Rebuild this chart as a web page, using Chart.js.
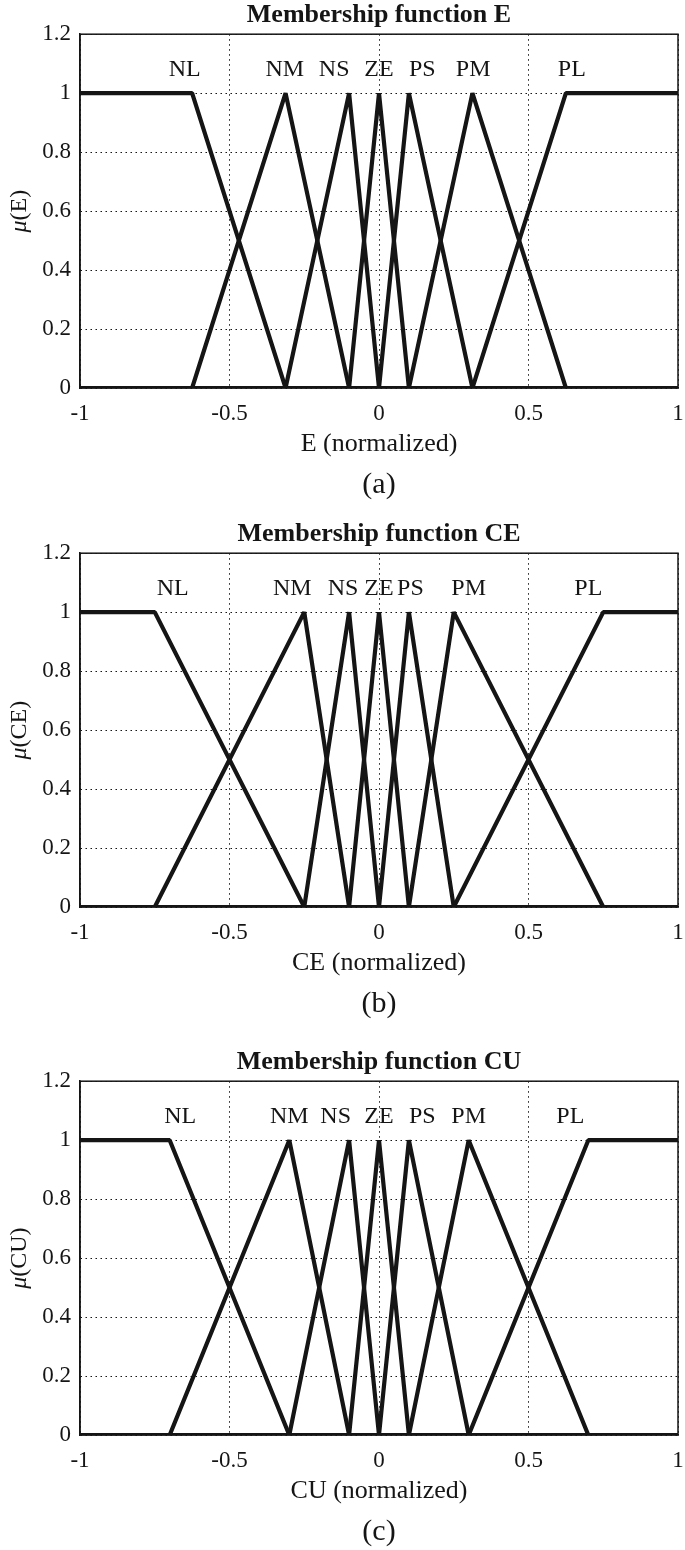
<!DOCTYPE html>
<html>
<head>
<meta charset="utf-8">
<script src="https://cdn.jsdelivr.net/npm/chart.js@4/dist/chart.umd.min.js"></script>
<style>
  html,body{margin:0;padding:0;background:#fff;width:685px;height:1550px;overflow:hidden;}
  /* canvas is a bit wider than the page so that titles centre on the plot area */
  .box{position:absolute;left:0;width:758px;height:510px;}
</style>
</head>
<body>
<div class="box" style="top:0"><canvas id="cE"></canvas></div>
<div class="box" style="top:519px"><canvas id="cCE"></canvas></div>
<div class="box" style="top:1047px"><canvas id="cCU"></canvas></div>
<script>
// Fuzzy membership functions (x normalized, y = membership)
const TERMS = ["NL","NM","NS","ZE","PS","PM","PL"];

// (a) E
const MF_E = [
  [[-1,1],[-0.625,1],[-0.3125,0],[1,0]],
  [[-1,0],[-0.625,0],[-0.3125,1],[-0.1,0],[1,0]],
  [[-1,0],[-0.3125,0],[-0.1,1],[0,0],[1,0]],
  [[-1,0],[-0.1,0],[0,1],[0.1,0],[1,0]],
  [[-1,0],[0,0],[0.1,1],[0.3125,0],[1,0]],
  [[-1,0],[0.1,0],[0.3125,1],[0.625,0],[1,0]],
  [[-1,0],[0.3125,0],[0.625,1],[1,1]]
];
const LBL_X_E = [-0.65,-0.315,-0.15,0,0.145,0.315,0.645];

// (b) CE
const MF_CE = [
  [[-1,1],[-0.75,1],[-0.25,0],[1,0]],
  [[-1,0],[-0.75,0],[-0.25,1],[-0.1,0],[1,0]],
  [[-1,0],[-0.25,0],[-0.1,1],[0,0],[1,0]],
  [[-1,0],[-0.1,0],[0,1],[0.1,0],[1,0]],
  [[-1,0],[0,0],[0.1,1],[0.25,0],[1,0]],
  [[-1,0],[0.1,0],[0.25,1],[0.75,0],[1,0]],
  [[-1,0],[0.25,0],[0.75,1],[1,1]]
];
const LBL_X_CE = [-0.69,-0.29,-0.12,0,0.105,0.30,0.70];

// (c) CU
const MF_CU = [
  [[-1,1],[-0.7,1],[-0.3,0],[1,0]],
  [[-1,0],[-0.7,0],[-0.3,1],[-0.1,0],[1,0]],
  [[-1,0],[-0.3,0],[-0.1,1],[0,0],[1,0]],
  [[-1,0],[-0.1,0],[0,1],[0.1,0],[1,0]],
  [[-1,0],[0,0],[0.1,1],[0.3,0],[1,0]],
  [[-1,0],[0.1,0],[0.3,1],[0.7,0],[1,0]],
  [[-1,0],[0.3,0],[0.7,1],[1,1]]
];
const LBL_X_CU = [-0.665,-0.30,-0.145,0,0.145,0.30,0.64];

const LBL_Y = 1.08;
const X_MIN = -1, X_MAX = 1, X_STEP = 0.5;
const Y_MIN = 0, Y_MAX = 1.2, Y_STEP = 0.2;

const FONT = "'Liberation Serif','DejaVu Serif','Times New Roman',serif";
const INK = "#151515";
const DOTS = [1.5,3.5];

// box around the plot area (MATLAB axes frame)
const framePlugin = {
  id: "frame",
  beforeDatasetsDraw(chart){
    const {ctx, chartArea:a} = chart;
    ctx.save();
    ctx.strokeStyle = INK; ctx.lineWidth = 1.5; ctx.setLineDash([]);
    ctx.strokeRect(a.left, a.top, a.right-a.left, a.bottom-a.top);
    ctx.restore();
  }
};

// term names above the peaks + y axis title with italic mu
const textPlugin = {
  id: "mfText",
  afterDraw(chart, args, opts){
    const {ctx, scales:{x, y}, chartArea:a} = chart;
    ctx.save();
    ctx.fillStyle = INK;
    ctx.font = "24px " + FONT;
    ctx.textAlign = "center"; ctx.textBaseline = "middle";
    const py = y.getPixelForValue(LBL_Y);
    opts.labelX.forEach((v,i)=> ctx.fillText(TERMS[i], x.getPixelForValue(v), py));

    // rotated "μ(E)"
    const mu = "μ", rest = "(" + opts.varName + ")";
    ctx.translate(20, (a.top+a.bottom)/2);
    ctx.rotate(-Math.PI/2);
    ctx.font = "italic 24px " + FONT;
    const w1 = ctx.measureText(mu).width;
    ctx.font = "24px " + FONT;
    const w2 = ctx.measureText(rest).width;
    const x0 = -(w1+w2)/2;
    ctx.textAlign = "left";
    ctx.font = "italic 24px " + FONT;
    ctx.fillText(mu, x0, 0);
    ctx.font = "24px " + FONT;
    ctx.fillText(rest, x0+w1, 0);
    ctx.restore();
  }
};

function makeChart(id, mfs, labelX, varName, caption){
  const gridOpts = {color: INK, lineWidth: 1, drawTicks: false};
  return new Chart(document.getElementById(id), {
    type: "line",
    data: {
      datasets: mfs.map((pts,i)=>({
        label: TERMS[i],
        data: pts.map(p=>({x:p[0], y:p[1]})),
        borderColor: INK, borderWidth: 4.2,
        pointRadius: 0, tension: 0, fill: false,
        borderJoinStyle: "bevel"
      }))
    },
    options: {
      responsive: true, maintainAspectRatio: false, animation: false,
      layout: {padding: 0},
      plugins: {
        legend: {display: false},
        tooltip: {enabled: false},
        title: {display: true, text: "Membership function " + varName, color: INK,
          font: {family: FONT, size: 26, weight: "bold"}, padding: {top: 0, bottom: 3}},
        subtitle: {display: true, position: "bottom", text: caption, color: INK,
          font: {family: FONT, size: 30}, padding: {top: 7, bottom: 7}},
        mfText: {labelX, varName}
      },
      scales: {
        x: {
          type: "linear", min: X_MIN, max: X_MAX,
          ticks: {stepSize: X_STEP, color: INK, font: {family: FONT, size: 23}, padding: 12,
            callback: v => String(Math.round(v*10)/10)},
          grid: {...gridOpts},
          border: {display: true, color: INK, width: 1.5, dash: DOTS},
          title: {display: true, text: varName + " (normalized)", color: INK,
            font: {family: FONT, size: 26}, padding: {top: 0, bottom: 0}},
          afterFit: s => { s.height = 72; s.paddingLeft = 0; s.paddingRight = 0; }
        },
        y: {
          min: Y_MIN, max: Y_MAX,
          ticks: {stepSize: Y_STEP, color: INK, font: {family: FONT, size: 23}, padding: 9,
            callback: v => String(Math.round(v*10)/10)},
          grid: {...gridOpts},
          border: {display: true, color: INK, width: 1.5, dash: DOTS},
          afterFit: s => { s.width = 80; }
        },
        // empty right-hand axis, same width as the left one, keeps titles centred on the plot
        yPad: {
          position: "right", min: Y_MIN, max: Y_MAX,
          ticks: {display: false}, grid: {display: false}, border: {display: false},
          afterFit: s => { s.width = 80; s.paddingTop = 0; s.paddingBottom = 0; }
        }
      }
    },
    plugins: [framePlugin, textPlugin]
  });
}

makeChart("cE", MF_E, LBL_X_E, "E", "(a)");
makeChart("cCE", MF_CE, LBL_X_CE, "CE", "(b)");
makeChart("cCU", MF_CU, LBL_X_CU, "CU", "(c)");
</script>
</body>
</html>
